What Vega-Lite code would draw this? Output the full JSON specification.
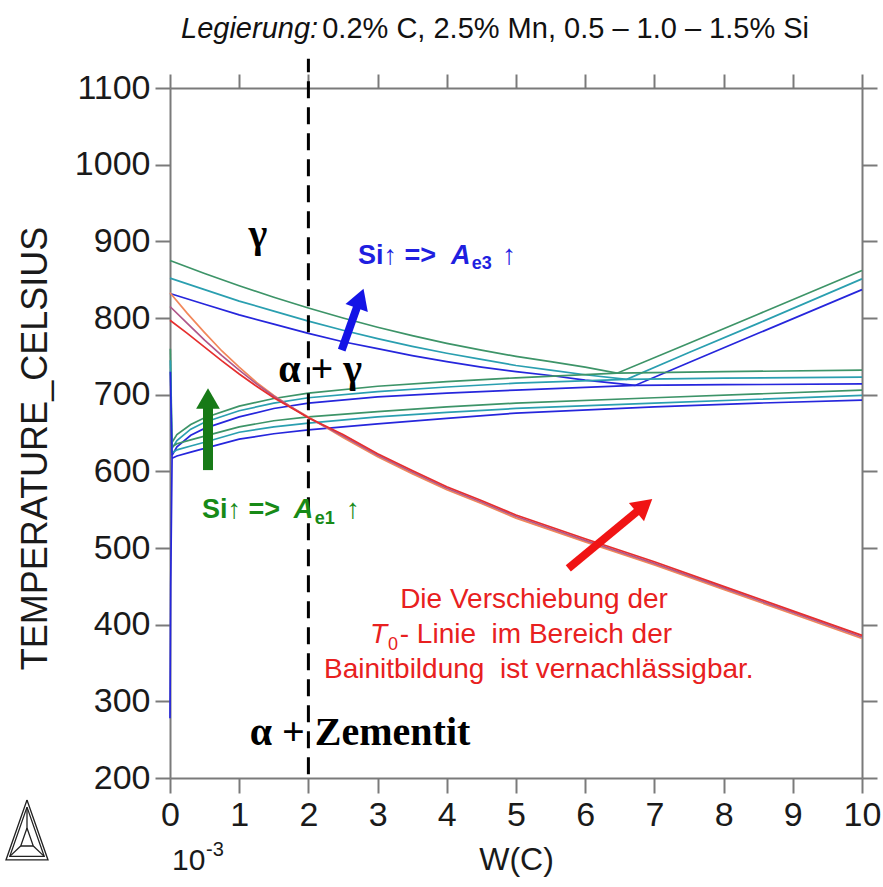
{
  "$schema": "https://vega.github.io/schema/vega-lite/v6.json",
  "width": 692,
  "height": 690,
  "autosize": {"type": "none"},
  "padding": {"left": 170, "top": 88, "right": 21, "bottom": 109},
  "background": "white",
  "config": {
    "view": {"stroke": null},
    "axis": {
      "grid": false,
      "domainColor": "#7a7a7a",
      "domainWidth": 2,
      "tickColor": "#7a7a7a",
      "tickWidth": 2,
      "tickSize": 15,
      "labelFont": "Liberation Sans",
      "labelFontSize": 34,
      "labelColor": "#1a1a1a",
      "labelPadding": 5,
      "titleFont": "Liberation Sans",
      "titleFontWeight": "normal",
      "titleColor": "#1a1a1a"
    }
  },
  "datasets": {
    "boundaries": [
      {"s": "Si 1.5%", "c": "g3", "w": 0, "T": 875}, {"s": "Si 1.5%", "c": "g3", "w": 0.5, "T": 858}, {"s": "Si 1.5%", "c": "g3", "w": 1, "T": 842}, {"s": "Si 1.5%", "c": "g3", "w": 1.5, "T": 827}, {"s": "Si 1.5%", "c": "g3", "w": 2, "T": 813}, {"s": "Si 1.5%", "c": "g3", "w": 2.5, "T": 800}, {"s": "Si 1.5%", "c": "g3", "w": 3, "T": 788}, {"s": "Si 1.5%", "c": "g3", "w": 3.5, "T": 777}, {"s": "Si 1.5%", "c": "g3", "w": 4, "T": 767}, {"s": "Si 1.5%", "c": "g3", "w": 4.5, "T": 758}, {"s": "Si 1.5%", "c": "g3", "w": 5, "T": 750}, {"s": "Si 1.5%", "c": "g3", "w": 5.5, "T": 743}, {"s": "Si 1.5%", "c": "g3", "w": 6, "T": 736}, {"s": "Si 1.5%", "c": "g3", "w": 6.46, "T": 728}, {"s": "Si 1.5%", "c": "g3", "w": 7.5, "T": 767}, {"s": "Si 1.5%", "c": "g3", "w": 8.5, "T": 805}, {"s": "Si 1.5%", "c": "g3", "w": 10, "T": 862},
      {"s": "Si 1.0%", "c": "t3", "w": 0, "T": 852}, {"s": "Si 1.0%", "c": "t3", "w": 0.5, "T": 837}, {"s": "Si 1.0%", "c": "t3", "w": 1, "T": 822}, {"s": "Si 1.0%", "c": "t3", "w": 1.5, "T": 809}, {"s": "Si 1.0%", "c": "t3", "w": 2, "T": 796}, {"s": "Si 1.0%", "c": "t3", "w": 2.5, "T": 784}, {"s": "Si 1.0%", "c": "t3", "w": 3, "T": 773}, {"s": "Si 1.0%", "c": "t3", "w": 3.5, "T": 763}, {"s": "Si 1.0%", "c": "t3", "w": 4, "T": 754}, {"s": "Si 1.0%", "c": "t3", "w": 4.5, "T": 746}, {"s": "Si 1.0%", "c": "t3", "w": 5, "T": 738}, {"s": "Si 1.0%", "c": "t3", "w": 5.5, "T": 732}, {"s": "Si 1.0%", "c": "t3", "w": 6, "T": 726}, {"s": "Si 1.0%", "c": "t3", "w": 6.6, "T": 720}, {"s": "Si 1.0%", "c": "t3", "w": 7.5, "T": 755}, {"s": "Si 1.0%", "c": "t3", "w": 8.5, "T": 793}, {"s": "Si 1.0%", "c": "t3", "w": 10, "T": 851},
      {"s": "Si 0.5%", "c": "b3", "w": 0, "T": 832}, {"s": "Si 0.5%", "c": "b3", "w": 0.5, "T": 818}, {"s": "Si 0.5%", "c": "b3", "w": 1, "T": 804}, {"s": "Si 0.5%", "c": "b3", "w": 1.5, "T": 792}, {"s": "Si 0.5%", "c": "b3", "w": 2, "T": 780}, {"s": "Si 0.5%", "c": "b3", "w": 2.5, "T": 769}, {"s": "Si 0.5%", "c": "b3", "w": 3, "T": 760}, {"s": "Si 0.5%", "c": "b3", "w": 3.5, "T": 751}, {"s": "Si 0.5%", "c": "b3", "w": 4, "T": 743}, {"s": "Si 0.5%", "c": "b3", "w": 4.5, "T": 736}, {"s": "Si 0.5%", "c": "b3", "w": 5, "T": 730}, {"s": "Si 0.5%", "c": "b3", "w": 5.5, "T": 725}, {"s": "Si 0.5%", "c": "b3", "w": 6, "T": 719}, {"s": "Si 0.5%", "c": "b3", "w": 6.72, "T": 712}, {"s": "Si 0.5%", "c": "b3", "w": 7.5, "T": 742}, {"s": "Si 0.5%", "c": "b3", "w": 8.5, "T": 780}, {"s": "Si 0.5%", "c": "b3", "w": 10, "T": 837},
      {"s": "Si 1.5%", "c": "gu", "w": 0.03, "T": 638}, {"s": "Si 1.5%", "c": "gu", "w": 0.1, "T": 648}, {"s": "Si 1.5%", "c": "gu", "w": 0.3, "T": 661}, {"s": "Si 1.5%", "c": "gu", "w": 0.5, "T": 670}, {"s": "Si 1.5%", "c": "gu", "w": 1, "T": 685}, {"s": "Si 1.5%", "c": "gu", "w": 1.5, "T": 695}, {"s": "Si 1.5%", "c": "gu", "w": 2, "T": 702}, {"s": "Si 1.5%", "c": "gu", "w": 3, "T": 711}, {"s": "Si 1.5%", "c": "gu", "w": 4, "T": 717}, {"s": "Si 1.5%", "c": "gu", "w": 5, "T": 722}, {"s": "Si 1.5%", "c": "gu", "w": 6.46, "T": 728}, {"s": "Si 1.5%", "c": "gu", "w": 8, "T": 730}, {"s": "Si 1.5%", "c": "gu", "w": 10, "T": 732},
      {"s": "Si 1.0%", "c": "tu", "w": 0.03, "T": 630}, {"s": "Si 1.0%", "c": "tu", "w": 0.1, "T": 640}, {"s": "Si 1.0%", "c": "tu", "w": 0.3, "T": 655}, {"s": "Si 1.0%", "c": "tu", "w": 0.5, "T": 664}, {"s": "Si 1.0%", "c": "tu", "w": 1, "T": 679}, {"s": "Si 1.0%", "c": "tu", "w": 1.5, "T": 689}, {"s": "Si 1.0%", "c": "tu", "w": 2, "T": 696}, {"s": "Si 1.0%", "c": "tu", "w": 3, "T": 704}, {"s": "Si 1.0%", "c": "tu", "w": 4, "T": 710}, {"s": "Si 1.0%", "c": "tu", "w": 5, "T": 715}, {"s": "Si 1.0%", "c": "tu", "w": 6.6, "T": 720}, {"s": "Si 1.0%", "c": "tu", "w": 8, "T": 721.5}, {"s": "Si 1.0%", "c": "tu", "w": 10, "T": 723},
      {"s": "Si 0.5%", "c": "bu", "w": 0.03, "T": 621}, {"s": "Si 0.5%", "c": "bu", "w": 0.1, "T": 632}, {"s": "Si 0.5%", "c": "bu", "w": 0.3, "T": 647}, {"s": "Si 0.5%", "c": "bu", "w": 0.5, "T": 656}, {"s": "Si 0.5%", "c": "bu", "w": 1, "T": 671}, {"s": "Si 0.5%", "c": "bu", "w": 1.5, "T": 682}, {"s": "Si 0.5%", "c": "bu", "w": 2, "T": 689}, {"s": "Si 0.5%", "c": "bu", "w": 3, "T": 697}, {"s": "Si 0.5%", "c": "bu", "w": 4, "T": 702}, {"s": "Si 0.5%", "c": "bu", "w": 5, "T": 706}, {"s": "Si 0.5%", "c": "bu", "w": 6.72, "T": 712}, {"s": "Si 0.5%", "c": "bu", "w": 8, "T": 713}, {"s": "Si 0.5%", "c": "bu", "w": 10, "T": 714},
      {"s": "Si 1.5%", "c": "gl", "w": 0.03, "T": 632}, {"s": "Si 1.5%", "c": "gl", "w": 0.1, "T": 636}, {"s": "Si 1.5%", "c": "gl", "w": 0.3, "T": 641}, {"s": "Si 1.5%", "c": "gl", "w": 0.5, "T": 646}, {"s": "Si 1.5%", "c": "gl", "w": 1, "T": 658}, {"s": "Si 1.5%", "c": "gl", "w": 1.5, "T": 666}, {"s": "Si 1.5%", "c": "gl", "w": 2, "T": 671}, {"s": "Si 1.5%", "c": "gl", "w": 3, "T": 678}, {"s": "Si 1.5%", "c": "gl", "w": 4, "T": 684}, {"s": "Si 1.5%", "c": "gl", "w": 5, "T": 689}, {"s": "Si 1.5%", "c": "gl", "w": 7, "T": 696}, {"s": "Si 1.5%", "c": "gl", "w": 8.5, "T": 701}, {"s": "Si 1.5%", "c": "gl", "w": 10, "T": 706},
      {"s": "Si 1.0%", "c": "tl", "w": 0.03, "T": 624}, {"s": "Si 1.0%", "c": "tl", "w": 0.1, "T": 628}, {"s": "Si 1.0%", "c": "tl", "w": 0.3, "T": 633}, {"s": "Si 1.0%", "c": "tl", "w": 0.5, "T": 638}, {"s": "Si 1.0%", "c": "tl", "w": 1, "T": 651}, {"s": "Si 1.0%", "c": "tl", "w": 1.5, "T": 658}, {"s": "Si 1.0%", "c": "tl", "w": 2, "T": 663}, {"s": "Si 1.0%", "c": "tl", "w": 3, "T": 671}, {"s": "Si 1.0%", "c": "tl", "w": 4, "T": 677}, {"s": "Si 1.0%", "c": "tl", "w": 5, "T": 682}, {"s": "Si 1.0%", "c": "tl", "w": 7, "T": 689}, {"s": "Si 1.0%", "c": "tl", "w": 8.5, "T": 694}, {"s": "Si 1.0%", "c": "tl", "w": 10, "T": 699},
      {"s": "Si 0.5%", "c": "bl", "w": 0.03, "T": 617}, {"s": "Si 0.5%", "c": "bl", "w": 0.1, "T": 620}, {"s": "Si 0.5%", "c": "bl", "w": 0.3, "T": 625}, {"s": "Si 0.5%", "c": "bl", "w": 0.5, "T": 630}, {"s": "Si 0.5%", "c": "bl", "w": 1, "T": 642}, {"s": "Si 0.5%", "c": "bl", "w": 1.5, "T": 649}, {"s": "Si 0.5%", "c": "bl", "w": 2, "T": 654}, {"s": "Si 0.5%", "c": "bl", "w": 3, "T": 662}, {"s": "Si 0.5%", "c": "bl", "w": 4, "T": 669}, {"s": "Si 0.5%", "c": "bl", "w": 5, "T": 676}, {"s": "Si 0.5%", "c": "bl", "w": 7, "T": 684}, {"s": "Si 0.5%", "c": "bl", "w": 8.5, "T": 689}, {"s": "Si 0.5%", "c": "bl", "w": 10, "T": 693},
      {"s": "Si 1.5%", "c": "gv", "w": 0.005, "T": 760}, {"s": "Si 1.5%", "c": "gv", "w": 0.03, "T": 632},
      {"s": "Si 1.0%", "c": "tv", "w": 0.005, "T": 745}, {"s": "Si 1.0%", "c": "tv", "w": 0.03, "T": 624},
      {"s": "Si 0.5%", "c": "bv", "w": 0.005, "T": 730}, {"s": "Si 0.5%", "c": "bv", "w": 0.03, "T": 617}, {"s": "Si 0.5%", "c": "bv", "w": 0.01, "T": 450}, {"s": "Si 0.5%", "c": "bv", "w": 0, "T": 278}
    ],
    "t0": [
      {"s": "T0 a", "w": 0, "T": 833}, {"s": "T0 a", "w": 0.25, "T": 806}, {"s": "T0 a", "w": 0.5, "T": 781}, {"s": "T0 a", "w": 0.75, "T": 757}, {"s": "T0 a", "w": 1, "T": 736}, {"s": "T0 a", "w": 1.25, "T": 716}, {"s": "T0 a", "w": 1.5, "T": 699}, {"s": "T0 a", "w": 1.75, "T": 684}, {"s": "T0 a", "w": 2, "T": 671}, {"s": "T0 a", "w": 2.5, "T": 644}, {"s": "T0 a", "w": 3, "T": 619}, {"s": "T0 a", "w": 3.5, "T": 597}, {"s": "T0 a", "w": 4, "T": 576}, {"s": "T0 a", "w": 4.5, "T": 558}, {"s": "T0 a", "w": 5, "T": 539}, {"s": "T0 a", "w": 6, "T": 508}, {"s": "T0 a", "w": 7, "T": 478}, {"s": "T0 a", "w": 8, "T": 446}, {"s": "T0 a", "w": 9, "T": 414}, {"s": "T0 a", "w": 10, "T": 382},
      {"s": "T0 b", "w": 0, "T": 815}, {"s": "T0 b", "w": 0.25, "T": 793}, {"s": "T0 b", "w": 0.5, "T": 771}, {"s": "T0 b", "w": 0.75, "T": 751}, {"s": "T0 b", "w": 1, "T": 732}, {"s": "T0 b", "w": 1.25, "T": 714}, {"s": "T0 b", "w": 1.5, "T": 698}, {"s": "T0 b", "w": 1.75, "T": 684}, {"s": "T0 b", "w": 2, "T": 670}, {"s": "T0 b", "w": 2.5, "T": 646}, {"s": "T0 b", "w": 3, "T": 621}, {"s": "T0 b", "w": 3.5, "T": 599}, {"s": "T0 b", "w": 4, "T": 578}, {"s": "T0 b", "w": 4.5, "T": 560}, {"s": "T0 b", "w": 5, "T": 541}, {"s": "T0 b", "w": 6, "T": 510}, {"s": "T0 b", "w": 7, "T": 480}, {"s": "T0 b", "w": 8, "T": 448}, {"s": "T0 b", "w": 9, "T": 416}, {"s": "T0 b", "w": 10, "T": 384},
      {"s": "T0 c", "w": 0, "T": 797}, {"s": "T0 c", "w": 0.25, "T": 780}, {"s": "T0 c", "w": 0.5, "T": 762}, {"s": "T0 c", "w": 0.75, "T": 744}, {"s": "T0 c", "w": 1, "T": 727}, {"s": "T0 c", "w": 1.25, "T": 711}, {"s": "T0 c", "w": 1.5, "T": 696}, {"s": "T0 c", "w": 1.75, "T": 683}, {"s": "T0 c", "w": 2, "T": 670}, {"s": "T0 c", "w": 2.5, "T": 648}, {"s": "T0 c", "w": 3, "T": 623}, {"s": "T0 c", "w": 3.5, "T": 601}, {"s": "T0 c", "w": 4, "T": 580}, {"s": "T0 c", "w": 4.5, "T": 562}, {"s": "T0 c", "w": 5, "T": 543}, {"s": "T0 c", "w": 6, "T": 512}, {"s": "T0 c", "w": 7, "T": 482}, {"s": "T0 c", "w": 8, "T": 450}, {"s": "T0 c", "w": 9, "T": 418}, {"s": "T0 c", "w": 10, "T": 386}
    ],
    "logo": [
      {"p": "outer", "w": -2.0665, "T": 171.3}, {"p": "outer", "w": -2.37, "T": 93.1}, {"p": "outer", "w": -1.763, "T": 93.1}, {"p": "outer", "w": -2.0665, "T": 171.3},
      {"p": "inner", "w": -2.0665, "T": 162.0}, {"p": "inner", "w": -2.315, "T": 97.8}, {"p": "inner", "w": -1.818, "T": 97.8}, {"p": "inner", "w": -2.0665, "T": 162.0},
      {"p": "core", "w": -2.0665, "T": 134.8}, {"p": "core", "w": -2.1575, "T": 111.3}, {"p": "core", "w": -1.9754, "T": 111.3}, {"p": "core", "w": -2.0665, "T": 134.8},
      {"p": "e1", "w": -2.0665, "T": 134.8}, {"p": "e1", "w": -2.0665, "T": 162.0},
      {"p": "e2", "w": -2.1575, "T": 111.3}, {"p": "e2", "w": -2.315, "T": 97.8},
      {"p": "e3", "w": -1.9754, "T": 111.3}, {"p": "e3", "w": -1.818, "T": 97.8}
    ]
  },
  "encoding": {
    "x": {"field": "w", "type": "quantitative", "scale": {"domain": [0, 10], "nice": false, "zero": false}, "axis": null},
    "y": {"field": "T", "type": "quantitative", "scale": {"domain": [200, 1100], "nice": false, "zero": false}, "axis": null}
  },
  "layer": [
    {
      "data": {"name": "boundaries"},
      "mark": {"type": "line", "strokeWidth": 1.7, "clip": false},
      "encoding": {
        "x": {"field": "w", "type": "quantitative", "scale": {"domain": [0, 10], "nice": false, "zero": false},
              "axis": {"orient": "bottom", "values": [0, 1, 2, 3, 4, 5, 6, 7, 8, 9, 10], "format": "d", "title": "W(C)", "titleFontSize": 32, "titlePadding": 12, "labelFlush": false, "labelOverlap": false}},
        "y": {"field": "T", "type": "quantitative", "scale": {"domain": [200, 1100], "nice": false, "zero": false},
              "axis": {"orient": "left", "values": [200, 300, 400, 500, 600, 700, 800, 900, 1000, 1100], "format": "d", "title": "TEMPERATURE_CELSIUS", "titleFontSize": 36, "titlePadding": 20, "titleY": 360}},
        "color": {"field": "s", "type": "nominal", "legend": null,
                  "scale": {"domain": ["Si 1.5%", "Si 1.0%", "Si 0.5%", "T0 a", "T0 b", "T0 c"], "range": ["#3d9468", "#2a9fb0", "#2626dc", "#f2875a", "#b0578a", "#e62e2e"]}},
        "detail": {"field": "c"},
        "order": {"value": null}
      }
    },
    {
      "data": {"name": "t0"},
      "mark": {"type": "line", "strokeWidth": 1.7},
      "encoding": {
        "color": {"field": "s", "type": "nominal", "legend": null,
                  "scale": {"domain": ["Si 1.5%", "Si 1.0%", "Si 0.5%", "T0 a", "T0 b", "T0 c"], "range": ["#3d9468", "#2a9fb0", "#2626dc", "#f2875a", "#b0578a", "#e62e2e"]}}
      }
    },
    {
      "data": {"values": [{"w": 2, "T": 205, "T2": 1138}]},
      "mark": {"type": "rule", "color": "#000000", "strokeWidth": 3, "strokeDash": [17, 9]},
      "encoding": {
        "x": {"field": "w", "type": "quantitative", "scale": {"domain": [0, 10], "nice": false, "zero": false},
              "axis": {"orient": "top", "values": [0, 1, 2, 3, 4, 5, 6, 7, 8, 9, 10], "labels": false, "title": null, "tickSize": 14}},
        "y": {"field": "T", "type": "quantitative", "scale": {"domain": [200, 1100], "nice": false, "zero": false},
              "axis": {"orient": "right", "values": [200, 300, 400, 500, 600, 700, 800, 900, 1000, 1100], "labels": false, "title": null}},
        "y2": {"field": "T2"}
      }
    },
    {
      "data": {"values": [{"w": 0.549, "T": 601.6, "w2": 0.549, "T2": 695}]},
      "mark": {"type": "rule", "color": "#177a17", "strokeWidth": 10},
      "encoding": {"x2": {"field": "w2"}, "y2": {"field": "T2"}}
    },
    {
      "data": {"values": [{"w": 0.549, "T": 695}]},
      "mark": {"type": "point", "shape": "triangle-up", "size": 560, "filled": true, "opacity": 1, "color": "#177a17"}
    },
    {
      "data": {"values": [{"w": 2.481, "T": 758, "w2": 2.747, "T2": 825.6}]},
      "mark": {"type": "rule", "color": "#1414e6", "strokeWidth": 8},
      "encoding": {"x2": {"field": "w2"}, "y2": {"field": "T2"}}
    },
    {
      "data": {"values": [{"w": 2.747, "T": 825.6}]},
      "mark": {"type": "point", "shape": "triangle-up", "size": 560, "angle": 19.6, "filled": true, "opacity": 1, "color": "#1414e6"}
    },
    {
      "data": {"values": [{"w": 5.756, "T": 473.4, "w2": 6.855, "T2": 555.4}]},
      "mark": {"type": "rule", "color": "#f01414", "strokeWidth": 8},
      "encoding": {"x2": {"field": "w2"}, "y2": {"field": "T2"}}
    },
    {
      "data": {"values": [{"w": 6.855, "T": 555.4}]},
      "mark": {"type": "point", "shape": "triangle-up", "size": 560, "angle": 50.4, "filled": true, "opacity": 1, "color": "#f01414"}
    },
    {
      "data": {"values": [{"t": "Legierung:", "w": 2.14, "T": 1165}]},
      "mark": {"type": "text", "align": "right", "baseline": "alphabetic", "font": "Liberation Sans", "fontSize": 29, "fontStyle": "italic", "color": "#111111"},
      "encoding": {"text": {"field": "t"}}
    },
    {
      "data": {"values": [{"t": "0.2% C, 2.5% Mn, 0.5 – 1.0 – 1.5% Si", "w": 2.2, "T": 1165}]},
      "mark": {"type": "text", "align": "left", "baseline": "alphabetic", "font": "Liberation Sans", "fontSize": 29, "color": "#111111"},
      "encoding": {"text": {"field": "t"}}
    },
    {
      "data": {"values": [{"t": "γ", "w": 1.27, "T": 892}, {"t": "α + γ", "w": 2.17, "T": 717}, {"t": "α + Zementit", "w": 2.746, "T": 243}]},
      "mark": {"type": "text", "align": "center", "baseline": "alphabetic", "font": "Liberation Serif", "fontSize": 40, "fontWeight": "bold", "color": "#000000"},
      "encoding": {"text": {"field": "t"}}
    },
    {
      "data": {"values": [{"t": "Si↑ =>", "w": 2.717, "T": 871}]},
      "mark": {"type": "text", "align": "left", "baseline": "alphabetic", "font": "Liberation Sans", "fontSize": 27, "fontWeight": "bold", "color": "#1f1fe0"},
      "encoding": {"text": {"field": "t"}}
    },
    {
      "data": {"values": [{"t": "A", "w": 4.06, "T": 871}]},
      "mark": {"type": "text", "align": "left", "baseline": "alphabetic", "font": "Liberation Sans", "fontSize": 27, "fontWeight": "bold", "fontStyle": "italic", "color": "#1f1fe0"},
      "encoding": {"text": {"field": "t"}}
    },
    {
      "data": {"values": [{"t": "e3", "w": 4.36, "T": 864}]},
      "mark": {"type": "text", "align": "left", "baseline": "alphabetic", "font": "Liberation Sans", "fontSize": 18, "fontWeight": "bold", "color": "#1f1fe0"},
      "encoding": {"text": {"field": "t"}}
    },
    {
      "data": {"values": [{"t": "↑", "w": 4.8, "T": 871}]},
      "mark": {"type": "text", "align": "left", "baseline": "alphabetic", "font": "Liberation Sans", "fontSize": 28, "color": "#1f1fe0"},
      "encoding": {"text": {"field": "t"}}
    },
    {
      "data": {"values": [{"t": "Si↑ =>", "w": 0.462, "T": 539}]},
      "mark": {"type": "text", "align": "left", "baseline": "alphabetic", "font": "Liberation Sans", "fontSize": 27, "fontWeight": "bold", "color": "#178a17"},
      "encoding": {"text": {"field": "t"}}
    },
    {
      "data": {"values": [{"t": "A", "w": 1.79, "T": 539}]},
      "mark": {"type": "text", "align": "left", "baseline": "alphabetic", "font": "Liberation Sans", "fontSize": 27, "fontWeight": "bold", "fontStyle": "italic", "color": "#178a17"},
      "encoding": {"text": {"field": "t"}}
    },
    {
      "data": {"values": [{"t": "e1", "w": 2.09, "T": 531}]},
      "mark": {"type": "text", "align": "left", "baseline": "alphabetic", "font": "Liberation Sans", "fontSize": 18, "fontWeight": "bold", "color": "#178a17"},
      "encoding": {"text": {"field": "t"}}
    },
    {
      "data": {"values": [{"t": "↑", "w": 2.543, "T": 539}]},
      "mark": {"type": "text", "align": "left", "baseline": "alphabetic", "font": "Liberation Sans", "fontSize": 28, "color": "#178a17"},
      "encoding": {"text": {"field": "t"}}
    },
    {
      "data": {"values": [{"t": "Die Verschiebung der", "w": 5.26, "T": 422}, {"t": "Bainitbildung\u00a0 ist vernachlässigbar.", "w": 5.33, "T": 330}]},
      "mark": {"type": "text", "align": "center", "baseline": "alphabetic", "font": "Liberation Sans", "fontSize": 28, "color": "#e82020"},
      "encoding": {"text": {"field": "t"}}
    },
    {
      "data": {"values": [{"t": "T", "w": 2.89, "T": 376}]},
      "mark": {"type": "text", "align": "left", "baseline": "alphabetic", "font": "Liberation Sans", "fontSize": 28, "fontStyle": "italic", "color": "#e82020"},
      "encoding": {"text": {"field": "t"}}
    },
    {
      "data": {"values": [{"t": "0", "w": 3.15, "T": 367}]},
      "mark": {"type": "text", "align": "left", "baseline": "alphabetic", "font": "Liberation Sans", "fontSize": 18, "color": "#e82020"},
      "encoding": {"text": {"field": "t"}}
    },
    {
      "data": {"values": [{"t": "- Linie\u00a0 im Bereich der", "w": 3.32, "T": 376}]},
      "mark": {"type": "text", "align": "left", "baseline": "alphabetic", "font": "Liberation Sans", "fontSize": 28, "color": "#e82020"},
      "encoding": {"text": {"field": "t"}}
    },
    {
      "data": {"values": [{"t": "10", "w": 0.03, "T": 80}]},
      "mark": {"type": "text", "align": "left", "baseline": "alphabetic", "font": "Liberation Sans", "fontSize": 30, "color": "#1a1a1a"},
      "encoding": {"text": {"field": "t"}}
    },
    {
      "data": {"values": [{"t": "-3", "w": 0.52, "T": 98}]},
      "mark": {"type": "text", "align": "left", "baseline": "alphabetic", "font": "Liberation Sans", "fontSize": 20, "color": "#1a1a1a"},
      "encoding": {"text": {"field": "t"}}
    },
    {
      "data": {"name": "logo"},
      "mark": {"type": "line", "color": "#222222", "strokeWidth": 1.3},
      "encoding": {"detail": {"field": "p"}, "order": {"value": null}}
    }
  ],
  "resolve": {"axis": {"x": "independent", "y": "independent"}}
}
